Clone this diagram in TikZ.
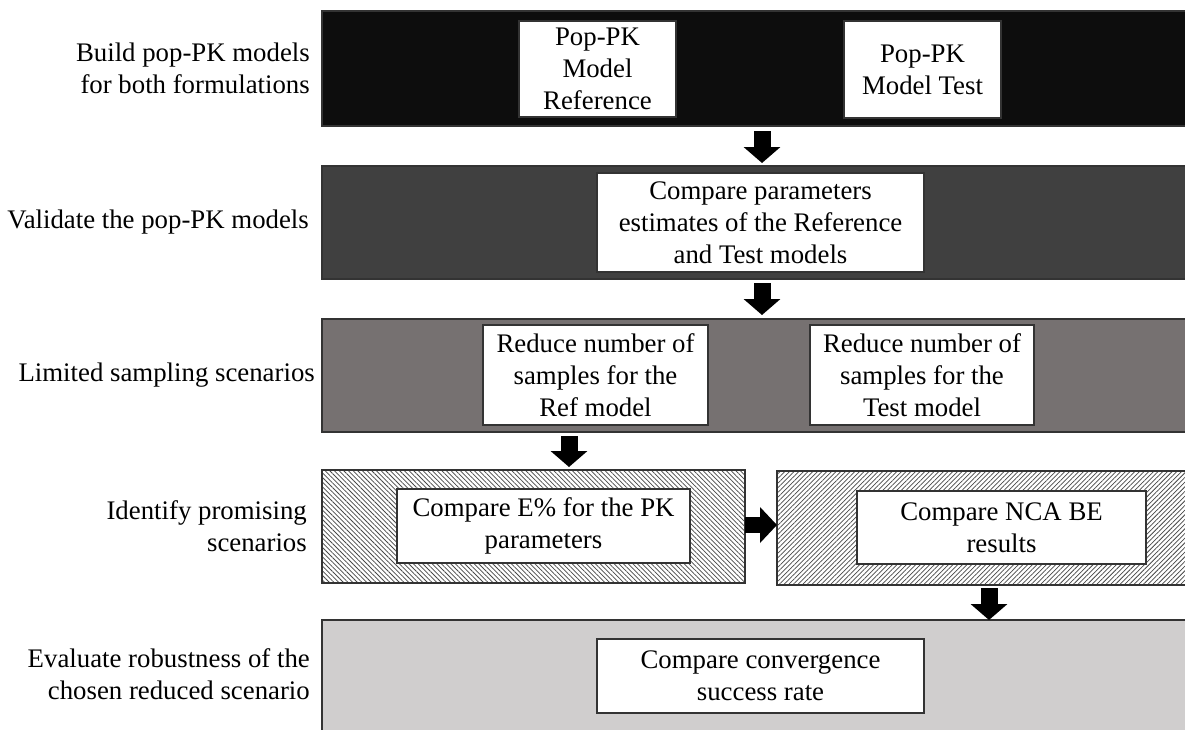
\documentclass[tikz,border=0pt]{standalone}
\usepackage{fontspec}
\setmainfont{Liberation Serif}
\usetikzlibrary{arrows.meta,patterns.meta}

\definecolor{bandone}{HTML}{0D0D0D}
\definecolor{bandtwo}{HTML}{404040}
\definecolor{bandthree}{HTML}{767171}
\definecolor{bandfive}{HTML}{D0CECE}
\definecolor{edgegray}{HTML}{333333}

\begin{document}
\begin{tikzpicture}[x=1pt,y=-1pt,
  txt/.style={font=\fontsize{26.8}{32}\selectfont},
  band/.style={draw=edgegray, line width=1.2pt, inner sep=0pt, outer sep=0pt, anchor=north west},
  box/.style={txt, draw=edgegray, line width=1.2pt, fill=white, inner sep=0pt, outer sep=0pt, align=center},
  steptext/.style={txt, anchor=east, align=right, inner sep=0pt},
  hatchback/.style={band, preaction={fill=white}, pattern={Lines[angle=-45,distance=3.3pt,line width=0.75pt]}, pattern color=black!72},
  hatchfwd/.style={band, preaction={fill=white}, pattern={Lines[angle=45,distance=3.3pt,line width=0.75pt]}, pattern color=black!72},
  downarrow/.style={line width=17pt, -{Triangle[width=36pt,length=16pt]}},
  sidearrow/.style={line width=16pt, -{Triangle[width=35pt,length=17pt]}}
]
\useasboundingbox (0,0) rectangle (1185,729);
\clip (0,0) rectangle (1185,729);

% stage bands
\node[band, fill=bandone, minimum width=870pt, minimum height=115pt] (b1) at (322,11) {};
\node[band, fill=bandtwo, minimum width=870pt, minimum height=113pt] (b2) at (322,166) {};
\node[band, fill=bandthree, minimum width=870pt, minimum height=113pt] (b3) at (322,319) {};
\node[hatchback, minimum width=423pt, minimum height=113pt] (b4l) at (322,470) {};
\node[hatchfwd, minimum width=415pt, minimum height=114pt] (b4r) at (777,471) {};
\node[band, fill=bandfive, minimum width=870pt, minimum height=115pt] (b5) at (322,620) {};

% task boxes
\node[box, minimum width=157pt, minimum height=96pt] (m1) at (597.5,69) {Pop-PK\\Model\\Reference};
\node[box, minimum width=157pt, minimum height=97pt] (m2) at (922.5,69.5) {Pop-PK\\Model Test};
\node[box, minimum width=327pt, minimum height=99pt] (v1) at (760.5,222.5) {Compare parameters\\estimates of the Reference\\and Test models};
\node[box, minimum width=225pt, minimum height=100pt] (r1) at (595.5,375) {Reduce number of\\samples for the\\Ref model};
\node[box, minimum width=224pt, minimum height=100pt] (r2) at (922,375) {Reduce number of\\samples for the\\Test model};
\node[box, minimum width=293pt, minimum height=74pt] (p1) at (543.5,526) {Compare E\% for the PK\\parameters};
\node[box, minimum width=289pt, minimum height=73pt] (p2) at (1001.5,527.5) {Compare NCA BE\\results};
\node[box, minimum width=327pt, minimum height=74pt] (c1) at (760.5,676) {Compare convergence\\success rate};

% stage names
\node[steptext] (l1) at (310,68.5) {Build pop-PK models\\for both formulations};
\node[steptext] (l2) at (309,222.5) {Validate the pop-PK models};
\node[steptext] (l3) at (315,375.5) {Limited sampling scenarios};
\node[steptext] (l4) at (307,526.5) {Identify promising\\scenarios};
\node[steptext] (l5) at (310,674) {Evaluate robustness of the\\chosen reduced scenario};

% flow arrows
\coordinate (xa) at (762,0);
\coordinate (xb) at (569,0);
\coordinate (xc) at (989,0);
\draw[downarrow, shorten <=5pt, shorten >=3pt] (b1.south -| xa) -- (b2.north -| xa);
\draw[downarrow, shorten <=4pt, shorten >=4pt] (b2.south -| xa) -- (b3.north -| xa);
\draw[downarrow, shorten <=4pt, shorten >=3pt] (b3.south -| xb) -- (b4l.north -| xb);
\path (b4l.east |- p1.east) ++(0,-1) coordinate (ha);
\path (b4r.west |- ha) coordinate (hb);
\draw[sidearrow] (ha) -- (hb);
\draw[downarrow, shorten <=3pt] (b4r.south -| xc) -- (b5.north -| xc);
\end{tikzpicture}
\end{document}
